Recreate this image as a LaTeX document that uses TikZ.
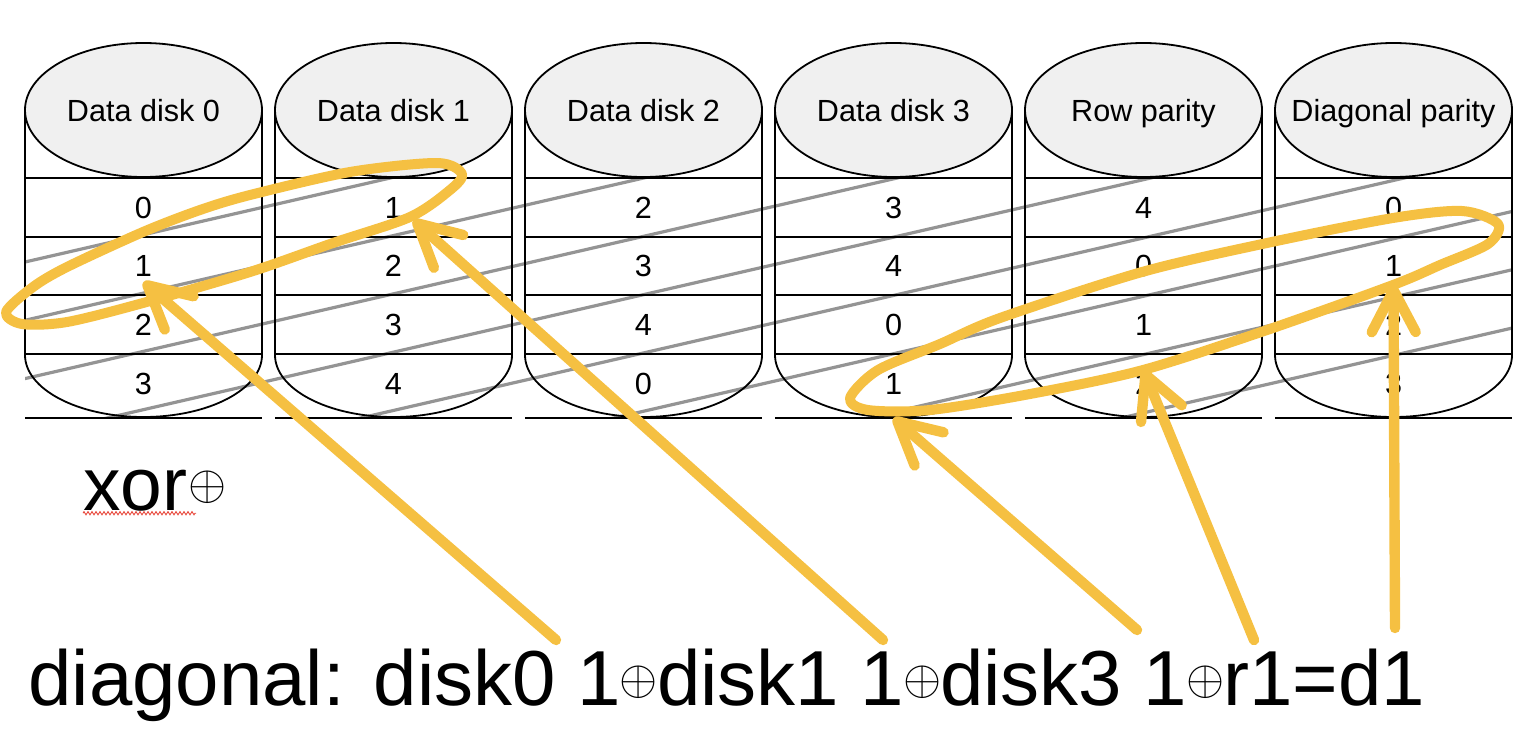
\documentclass[tikz,border=0pt]{standalone}
\usepackage{graphicx}
\usepackage{fontspec}
\setmainfont{Liberation Sans}
\usetikzlibrary{arrows.meta}
\usetikzlibrary{decorations.pathmorphing}
\definecolor{hilite}{RGB}{245,192,66}
\definecolor{squiggle}{RGB}{232,72,60}
\newcommand\xorsign{\makebox[18pt]{\scalebox{2.45}{\normalsize$\oplus$}}}
\tikzset{
disk/.style={ % outline of a disk
line width=0.9pt,
black},
diskcap/.style={disk, fill=black!6},
stripe/.style={black!42, line width=1.6pt}, % diagonal stripes
disklabel/.style={font=\fontsize{15.3}{18}\selectfont, inner sep=0pt, anchor=base},
cell/.style={font=\fontsize{15.3}{18}\selectfont, inner sep=0pt},
note/.style={font=\fontsize{37.5}{40}\selectfont, inner sep=0pt},
formula/.style={font=\fontsize{39}{42}\selectfont, inner sep=0pt},
ring/.style={draw=hilite, line width=5pt, line join=round},
pointer/.style={ % hand drawn arrows
draw=hilite,
line width=5.2pt,
line cap=round,
-{Straight Barb[length=21pt,width=22pt,round]}},
squiggly/.style={draw=squiggle, line width=0.45pt,
decorate, decoration={zigzag, segment length=2pt, amplitude=0.8pt}}}

\begin{document}
\begin{tikzpicture}[x=0.5pt,y=-0.5pt]
\useasboundingbox (0,0) rectangle (1530,728);

% diagonal stripes
\begin{scope}
\clip (25,178) rectangle (1512,417);
\foreach \m in {0,...,7}
  \draw[stripe] (0,{267.75+58.3*\m}) -- (1530,{-84.15+58.3*\m});
\end{scope}

% disks
\foreach \d/\name in {0/Data disk 0,1/Data disk 1,2/Data disk 2,3/Data disk 3,4/Row parity,5/Diagonal parity}{
  \pgfmathsetmacro\cx{143.5+250*\d}
  \draw[disk] (\cx-118.5,110) -- (\cx-118.5,355)
    arc[start angle=180, end angle=0, x radius=118.5, y radius=62] -- (\cx+118.5,110);
  \foreach \y in {178,237,295,354}
    \draw[disk] (\cx-118.5,\y) -- (\cx+118.5,\y);
  \draw[disk] (\cx-118.5,418) -- (\cx+118.5,418);
  \draw[diskcap] (\cx,110) ellipse[x radius=118.5, y radius=67];
  \node[disklabel] (d\d) at (\cx,121) {\name};
  \foreach \r/\y in {0/207.5,1/266,2/324.5,3/384}{
    \pgfmathtruncatemacro\v{\d==5 ? \r : mod(\r+\d,5)}
    \node[cell] (c\d\r) at (\cx,\y) {\v};
  }
}

% texts
\node[note, anchor=base west] (xor) at (83,510) {xor\hspace{1.2pt}\raisebox{5.5pt}{\xorsign}};
\draw[squiggly] ([yshift=-1.6pt]xor.base west) -- ++(56.5pt,0);
\node[formula, anchor=base west] (diag) at (28,705)
  {diagonal: disk0 1\raisebox{5.5pt}{\xorsign}disk1 1\raisebox{5.5pt}{\xorsign}disk3 1\raisebox{5.5pt}{\xorsign}r1=d1};

% rings round the blocks of diagonal 1
\draw[ring] plot[smooth cycle] coordinates {(6,312) (33,287) (67,267) (143,232) (200,210) (250,195)
  (350,172) (437,163) (462,174) (450,190) (410,217) (333,243) (250,272) (143,303) (67,322) (22,324)};
\draw[ring] plot[smooth cycle] coordinates {(850,398) (878,370) (940,344) (1000,318) (1142,272)
  (1267,243) (1393,218) (1462,211) (1498,224) (1488,244) (1440,265) (1393,285) (1267,330)
  (1143,370) (1030,394) (930,410) (868,410)};

% arrows
\coordinate (tA) at (556,640);
\coordinate (tB) at (883,640);
\coordinate (tC) at (1137,630);
\coordinate (tD) at (1254,640);
\coordinate (tE) at (1395,628);
\draw[pointer] (tA) -- ([yshift=-2.5pt]c01.south);
\draw[pointer] (tB) -- ([xshift=5.5pt,yshift=-0.75pt]c10.south east);
\draw[pointer] (tC) -- ([yshift=-11.5pt]c33.south);
\draw[pointer] (tD) -- ([yshift=1.5pt]c43.north);
\draw[pointer] (tE) -- ([yshift=-4pt]c51.south);
\end{tikzpicture}
\end{document}
